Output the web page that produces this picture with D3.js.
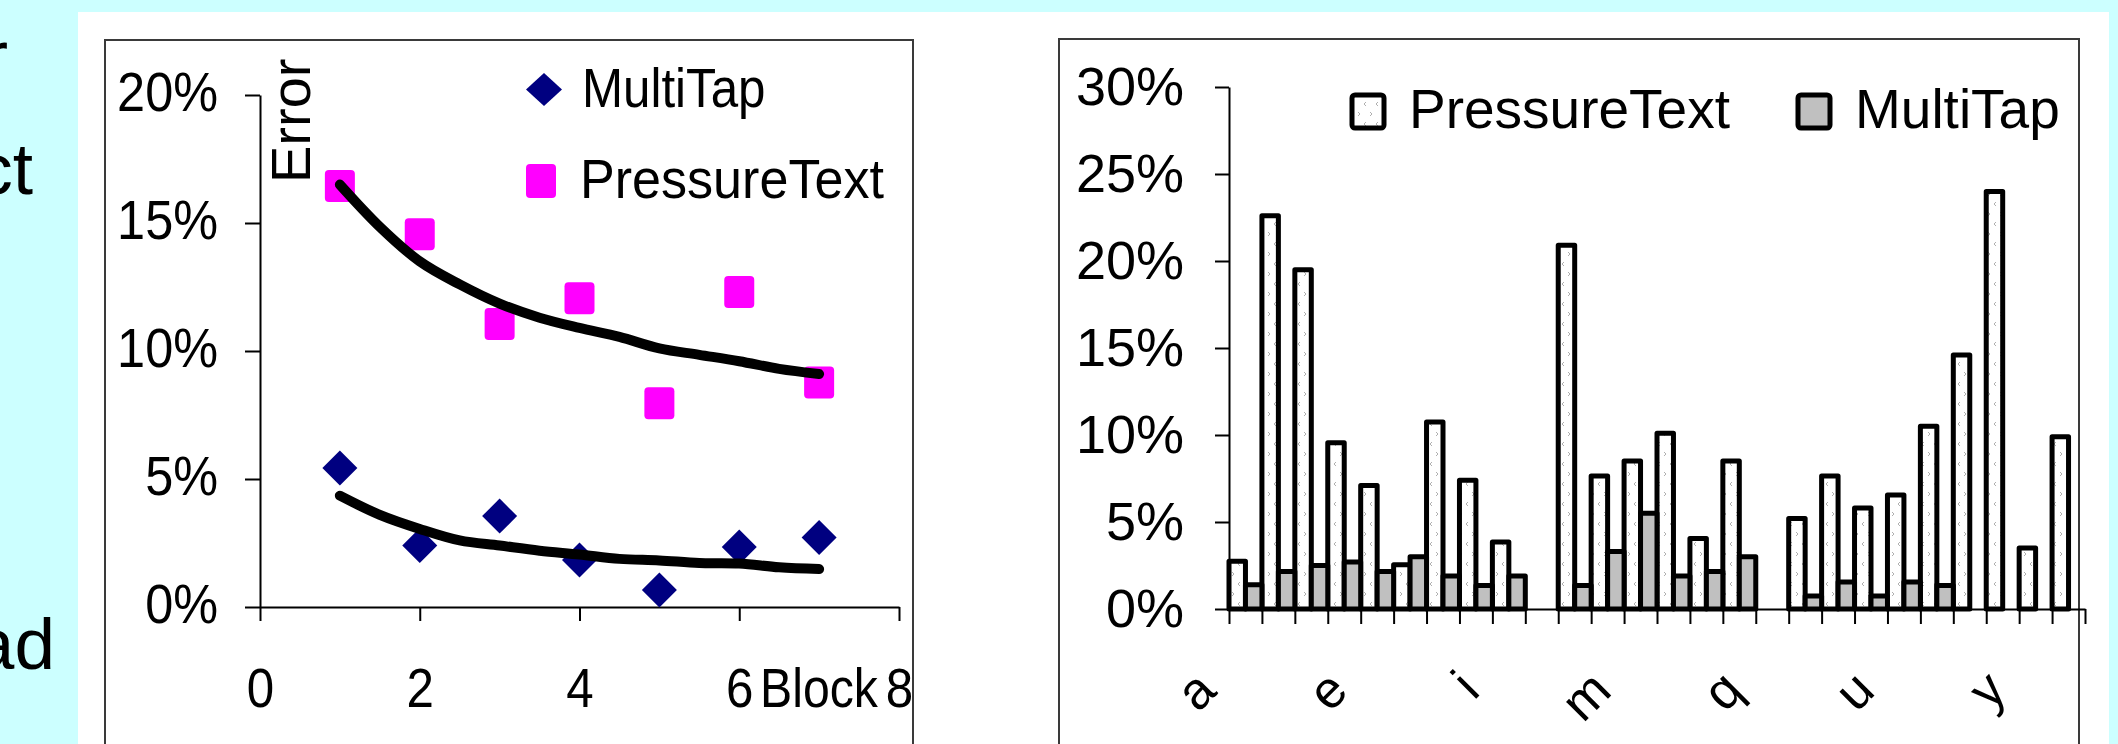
<!DOCTYPE html>
<html>
<head>
<meta charset="utf-8">
<script src="https://cdn.jsdelivr.net/npm/d3@7"></script>
<style>
  html, body { margin: 0; padding: 0; background: #ccffff; overflow: hidden; }
  svg { display: block; }
</style>
</head>
<body>
<svg id="chart" width="2118" height="744"></svg>
<script>
// left chart: error rate per block
const blocks = [1, 2, 3, 4, 5, 6, 7];
const multiTapErr = [5.43, 2.40, 3.55, 1.84, 0.66, 2.34, 2.71];
const pressureTextErr = [16.45, 14.56, 11.05, 12.06, 7.96, 12.30, 8.77];
// trend lines
const trendBlocks = [1, 1.5, 2, 2.5, 3, 3.5, 4, 4.5, 5, 5.5, 6, 6.5, 7];
const pressureTextTrend = [16.5, 14.85, 13.5, 12.6, 11.85, 11.3, 10.9, 10.55, 10.1, 9.85, 9.6, 9.3, 9.1];
const multiTapTrend = [4.35, 3.6, 3.05, 2.6, 2.4, 2.2, 2.05, 1.88, 1.82, 1.72, 1.7, 1.55, 1.48];
const blockTicks = [0, 2, 4, 6, 8];
const errTicks = [0, 5, 10, 15, 20];

// right chart: error rate per letter
const letters = ['a', 'b', 'c', 'd', 'e', 'f', 'g', 'h', 'i', 'j', 'k', 'l', 'm',
                 'n', 'o', 'p', 'q', 'r', 's', 't', 'u', 'v', 'w', 'x', 'y', 'z'];
const letterLabels = ['a', 'e', 'i', 'm', 'q', 'u', 'y'];
const pressureTextByLetter = [2.75, 22.6, 19.5, 9.55, 7.1, 2.55, 10.75, 7.4, 3.85, 0,
                              20.9, 7.65, 8.5, 10.1, 4.05, 8.5, 0, 5.2, 7.65, 5.8,
                              6.55, 10.5, 14.6, 24.0, 3.5, 9.9];
const multiTapByLetter = [1.4, 2.15, 2.5, 2.7, 2.15, 3.0, 1.9, 1.35, 1.9, 0,
                          1.35, 3.3, 5.5, 1.9, 2.15, 3.0, 0, 0.75, 1.55, 0.75,
                          1.55, 1.35, 0, 0, 0, 0];
const letterErrTicks = [0, 5, 10, 15, 20, 25, 30];

// slide text cut off at the left edge
const slideFragments = ['r', 'ct', 'ad'];

const FONT = '"Liberation Sans", Arial, sans-serif';
const svg = d3.select('#chart').attr('font-family', FONT);

// squeeze text horizontally (left chart is stretched narrow on the slide)
function squeeze(sel, k) {
  sel.each(function () {
    const len = this.getComputedTextLength();
    d3.select(this).attr('textLength', len * k).attr('lengthAdjust', 'spacingAndGlyphs');
  });
}

function styleAxis(g, size) {
  g.select('.domain').attr('stroke', '#000').attr('stroke-width', 2);
  g.selectAll('.tick line').attr('stroke', '#000').attr('stroke-width', 2);
  g.selectAll('.tick text').attr('font-family', FONT).attr('font-size', size).attr('fill', '#000');
}

svg.append('rect').attr('width', 2118).attr('height', 744).attr('fill', '#ccffff');

const fragPos = [[8, 81], [33, 194], [55, 669]];
svg.selectAll('text.frag')
  .data(slideFragments)
  .join('text')
  .attr('class', 'frag')
  .attr('x', (d, i) => fragPos[i][0])
  .attr('y', (d, i) => fragPos[i][1])
  .attr('text-anchor', 'end')
  .attr('font-size', 73)
  .text((d) => d);

svg.append('rect').attr('x', 78).attr('y', 12).attr('width', 2031).attr('height', 760).attr('fill', '#fff');

// chart frames
svg.append('rect').attr('x', 105).attr('y', 40).attr('width', 808).attr('height', 760)
  .attr('fill', 'none').attr('stroke', '#3a3a3a').attr('stroke-width', 2);
svg.append('rect').attr('x', 1059).attr('y', 39).attr('width', 1020).attr('height', 760)
  .attr('fill', 'none').attr('stroke', '#3a3a3a').attr('stroke-width', 2);

// ---------- left chart ----------
const xL = d3.scaleLinear().domain([0, 8]).range([260, 899]);
const yL = d3.scaleLinear().domain([0, 20]).range([607, 95]);
const left = svg.append('g');

const yAxisL = left.append('g').attr('transform', 'translate(260,0)')
  .call(d3.axisLeft(yL).tickValues(errTicks).tickSize(15).tickSizeOuter(0).tickPadding(27).tickFormat((d) => d + '%'));
const xAxisL = left.append('g').attr('transform', 'translate(0,607)')
  .call(d3.axisBottom(xL).tickValues(blockTicks).tickSize(14).tickSizeOuter(0).tickFormat(d3.format('d')));
styleAxis(yAxisL, 56);
styleAxis(xAxisL, 56);
yAxisL.selectAll('.tick text').attr('dy', 15);
xAxisL.selectAll('.tick text').attr('y', 100).attr('dy', 0);
squeeze(yAxisL.selectAll('.tick text'), 0.9);
squeeze(xAxisL.selectAll('.tick text'), 0.88);

const blockTitle = left.append('text').attr('x', 819).attr('y', 707).attr('text-anchor', 'middle')
  .attr('font-size', 56).text('Block');
squeeze(blockTitle, 0.86);
left.append('text').attr('transform', 'translate(310,183) rotate(-90)').attr('font-size', 56).text('Error');

const diamond = (w, h) => `M0,${-h}L${w},0L0,${h}L${-w},0Z`;

left.selectAll('rect.pt')
  .data(blocks)
  .join('rect')
  .attr('class', 'pt')
  .attr('x', (d) => xL(d) - 15)
  .attr('y', (d, i) => yL(pressureTextErr[i]) - 16)
  .attr('width', 30)
  .attr('height', 32)
  .attr('rx', 4)
  .attr('fill', '#ff00ff');

left.selectAll('path.mt')
  .data(blocks)
  .join('path')
  .attr('class', 'mt')
  .attr('transform', (d, i) => `translate(${xL(d)},${yL(multiTapErr[i])})`)
  .attr('d', diamond(17.5, 17.5))
  .attr('fill', '#000080');

const trendLine = d3.line().x((d) => xL(d[0])).y((d) => yL(d[1])).curve(d3.curveCatmullRom);
[pressureTextTrend, multiTapTrend].forEach((series) => {
  left.append('path')
    .datum(trendBlocks.map((b, i) => [b, series[i]]))
    .attr('d', trendLine)
    .attr('fill', 'none')
    .attr('stroke', '#000')
    .attr('stroke-width', 10)
    .attr('stroke-linecap', 'round')
    .attr('stroke-linejoin', 'round');
});

// legend
left.append('path').attr('transform', 'translate(544,89.5)').attr('d', diamond(18, 16.5)).attr('fill', '#000080');
squeeze(left.append('text').attr('x', 582).attr('y', 107).attr('font-size', 56).text('MultiTap'), 0.88);
left.append('rect').attr('x', 526).attr('y', 164).attr('width', 30).attr('height', 34).attr('rx', 4).attr('fill', '#ff00ff');
squeeze(left.append('text').attr('x', 580).attr('y', 198).attr('font-size', 56).text('PressureText'), 0.93);

// ---------- right chart ----------
const defs = svg.append('defs');
const pat = defs.append('pattern').attr('id', 'speckle').attr('patternUnits', 'userSpaceOnUse')
  .attr('width', 12).attr('height', 20);
pat.append('rect').attr('width', 12).attr('height', 20).attr('fill', '#fff');
pat.append('path').attr('d', 'M4,2L2,4L4,6M8,12L10,14L8,16')
  .attr('fill', 'none').attr('stroke', '#b0b0b0').attr('stroke-width', 1);

const xR = d3.scaleBand().domain(letters).range([1229, 2085]).padding(0);
const xSub = d3.scaleBand().domain(['PressureText', 'MultiTap']).range([0, xR.bandwidth()]);
const yR = d3.scaleLinear().domain([0, 30]).range([609, 87]);
const xIdx = d3.scaleLinear().domain([0, letters.length]).range(xR.range());
const right = svg.append('g');

const yAxisR = right.append('g').attr('transform', 'translate(1229,0)')
  .call(d3.axisLeft(yR).tickValues(letterErrTicks).tickSize(14).tickSizeOuter(0).tickPadding(31).tickFormat((d) => d + '%'));
const xAxisR = right.append('g').attr('transform', 'translate(0,609)')
  .call(d3.axisBottom(xIdx).tickValues(d3.range(letters.length + 1)).tickSize(15).tickSizeOuter(0).tickFormat(''));
styleAxis(yAxisR, 54);
styleAxis(xAxisR, 54);
yAxisR.selectAll('.tick text').attr('dy', 17);

const series = [
  { key: 'PressureText', values: pressureTextByLetter, fill: 'url(#speckle)' },
  { key: 'MultiTap', values: multiTapByLetter, fill: '#c0c0c0' },
];
series.forEach((s) => {
  right.selectAll(null)
    .data(letters.map((l, i) => ({ l, v: s.values[i] })).filter((d) => d.v > 0))
    .join('rect')
    .attr('x', (d) => xR(d.l) + xSub(s.key))
    .attr('y', (d) => yR(d.v))
    .attr('width', xSub.bandwidth())
    .attr('height', (d) => yR(0) - yR(d.v))
    .attr('fill', s.fill)
    .attr('stroke', '#000')
    .attr('stroke-width', 5)
    .attr('stroke-linejoin', 'round');
});

right.selectAll('text.letter')
  .data(letterLabels)
  .join('text')
  .attr('class', 'letter')
  .attr('transform', (d) => `translate(${xR(d) + xR.bandwidth() / 2 - 27},693) rotate(-45)`)
  .attr('text-anchor', 'end')
  .attr('font-size', 52)
  .text((d) => d);

// legend
const legendR = [
  { key: 'PressureText', fill: 'url(#speckle)', x: 1350 },
  { key: 'MultiTap', fill: '#c0c0c0', x: 1796 },
];
const li = right.selectAll('g.leg').data(legendR).join('g').attr('class', 'leg')
  .attr('transform', (d) => `translate(${d.x},0)`);
li.append('rect').attr('x', 2).attr('y', 95).attr('width', 32).attr('height', 33).attr('rx', 3)
  .attr('fill', (d) => d.fill).attr('stroke', '#000').attr('stroke-width', 5);
li.append('text').attr('x', 59).attr('y', 128).attr('font-size', 55).text((d) => d.key);
</script>
</body>
</html>
